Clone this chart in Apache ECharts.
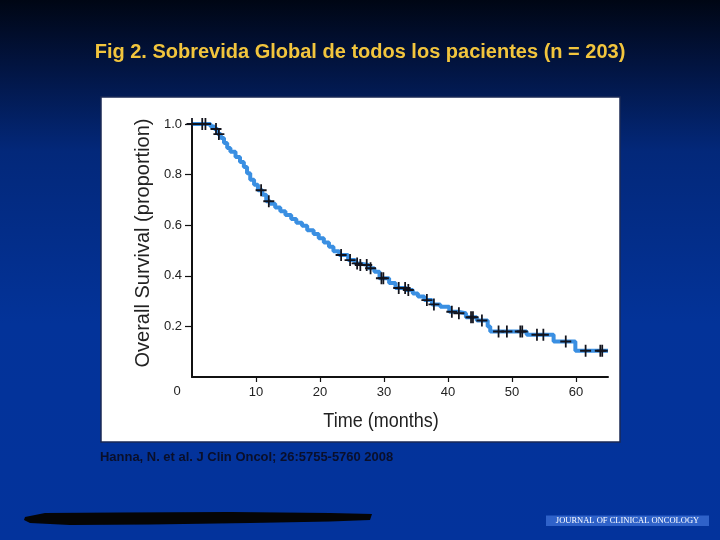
<!DOCTYPE html>
<html>
<head>
<meta charset="utf-8">
<script src="https://cdn.jsdelivr.net/npm/echarts@6/dist/echarts.min.js"></script>
<style>
html,body{margin:0;padding:0;width:720px;height:540px;overflow:hidden;background:#001a5a;}
#c{width:720px;height:540px;}
</style>
</head>
<body>
<div id="c"></div>
<script>
// Kaplan-Meier curve (step points: time in months, survival proportion)
const kmTimes = [0, 2.9, 3.5, 4.0, 4.5, 5.0, 5.5, 6.0, 6.8, 7.5, 8.1, 8.6, 9.1, 9.7, 10.3, 11.0, 11.6, 12.2, 13.0, 13.8, 14.6, 15.5, 16.3, 17.2, 18.0, 19.0, 19.8, 20.6, 21.4, 22.1, 23.0, 24.4, 25.5, 26.1, 27.6, 28.5, 29.3, 30.8, 31.8, 33.5, 34.5, 35.3, 36.3, 37.5, 38.8, 40.2, 41.5, 42.8, 44.5, 46.2, 46.6, 52.3, 56.5, 59.9, 65.0];
const kmSurv  = [1.0, 0.99, 0.98, 0.96, 0.945, 0.925, 0.905, 0.89, 0.87, 0.85, 0.83, 0.805, 0.78, 0.76, 0.738, 0.72, 0.695, 0.685, 0.67, 0.655, 0.64, 0.625, 0.61, 0.598, 0.58, 0.565, 0.548, 0.532, 0.515, 0.497, 0.482, 0.462, 0.449, 0.443, 0.43, 0.416, 0.39, 0.372, 0.352, 0.344, 0.33, 0.318, 0.304, 0.287, 0.278, 0.258, 0.252, 0.236, 0.223, 0.20, 0.18, 0.167, 0.14, 0.104, 0.104];
// Censored observations
const censorTimes = [0, 1.6, 2.1, 3.75, 4.2, 10.8, 12.0, 23.3, 24.7, 25.8, 26.3, 27.3, 27.9, 29.6, 29.9, 32.3, 33.3, 33.8, 36.7, 37.8, 40.6, 41.7, 43.6, 43.9, 45.3, 47.9, 49.2, 51.3, 51.6, 53.9, 54.9, 58.4, 61.5, 63.8, 64.1];
const censorSurv  = [1, 1, 1, 0.98, 0.96, 0.738, 0.695, 0.482, 0.462, 0.449, 0.443, 0.443, 0.43, 0.39, 0.39, 0.352, 0.352, 0.344, 0.304, 0.287, 0.258, 0.252, 0.236, 0.236, 0.223, 0.18, 0.18, 0.18, 0.18, 0.167, 0.167, 0.14, 0.104, 0.104, 0.104];
// Axis ticks (0 is drawn once, at the corner)
const xTicks = [10, 20, 30, 40, 50, 60];
const yTicks = [0.2, 0.4, 0.6, 0.8, 1.0];

const titleText = 'Fig 2. Sobrevida Global de todos los pacientes (n = 203)';
const sourceText = 'Hanna, N. et al. J Clin Oncol; 26:5755-5760 2008';
const yName = 'Overall Survival (proportion)';
const xName = 'Time (months)';

const kmData = kmTimes.map((t, i) => [t, kmSurv[i]]);
const censorData = censorTimes.map((t, i) => [t, censorSurv[i]]);

const chart = echarts.init(document.getElementById('c'), null, {renderer: 'canvas'});
const sans = '"Liberation Sans", Arial, sans-serif';

chart.setOption({
  animation: false,
  backgroundColor: 'transparent',
  title: {
    text: titleText,
    left: 'center',
    top: 37,
    textStyle: {color: '#F2C53D', fontFamily: sans, fontWeight: 'bold', fontSize: 20}
  },
  graphic: [
    {
      type: 'rect', z: -10, silent: true,
      shape: {x: 0, y: 0, width: 720, height: 540},
      style: {fill: new echarts.graphic.LinearGradient(0, 0, 0, 1, [
        {offset: 0, color: '#000614'},
        {offset: 0.12, color: '#021440'},
        {offset: 0.28, color: '#03287a'},
        {offset: 0.6, color: '#033399'},
        {offset: 1, color: '#03339c'}
      ])}
    },
    {
      type: 'rect', z: -9, silent: true,
      shape: {x: 101, y: 97, width: 519, height: 345},
      style: {fill: '#ffffff', stroke: '#1b2a55', lineWidth: 1.5}
    },
    {
      type: 'text', z: 5,
      x: 177, y: 391,
      style: {text: '0', fill: '#222', font: '13px ' + sans, align: 'center', verticalAlign: 'middle'}
    },
    {
      type: 'text', z: 5,
      x: 143, y: 243, rotation: Math.PI / 2,
      style: {text: yName, fill: '#222', font: '20px ' + sans, align: 'center', verticalAlign: 'middle'}
    },
    {
      type: 'text', z: 5,
      x: 381, y: 421, scaleX: 0.9,
      style: {text: xName, fill: '#222', font: '20px ' + sans, align: 'center', verticalAlign: 'middle'}
    },
    {
      type: 'text', z: 5,
      x: 100, y: 458, scaleX: 1.08,
      style: {text: sourceText, fill: '#0a0f2a', font: 'bold 12px ' + sans, align: 'left', verticalAlign: 'middle'}
    },
    {
      type: 'polygon', z: 5, silent: true,
      shape: {points: [[25,517],[45,513],[120,512.5],[230,512],[330,513],[372,514],[370,520],[330,521.5],[250,523],[150,524.5],[70,525],[30,523],[24,520]]},
      style: {fill: '#050505'}
    },
    {
      type: 'rect', z: 5,
      shape: {x: 546, y: 515.5, width: 163, height: 10.5},
      style: {fill: '#2f62c9'}
    },
    {
      type: 'text', z: 6,
      x: 627.5, y: 521,
      style: {text: 'JOURNAL OF CLINICAL ONCOLOGY', fill: '#ffffff', font: '8.5px "Liberation Serif", serif', align: 'center', verticalAlign: 'middle'}
    }
  ],
  grid: {left: 192, top: 124, width: 416, height: 253, containLabel: false},
  xAxis: {
    type: 'value', min: 0, max: 65, interval: 10,
    axisLine: {show: true, lineStyle: {color: '#111', width: 2}},
    axisTick: {show: true, length: 5, customValues: xTicks, lineStyle: {color: '#111', width: 1.2}},
    axisLabel: {
      color: '#222', fontFamily: sans, fontSize: 13, margin: 9,
      customValues: xTicks,
      formatter: v => String(v)
    },
    splitLine: {show: false}
  },
  yAxis: {
    type: 'value', min: 0, max: 1, interval: 0.2,
    axisLine: {show: true, lineStyle: {color: '#111', width: 2}},
    axisTick: {show: true, length: 7, customValues: yTicks, lineStyle: {color: '#111', width: 1.2}},
    axisLabel: {
      color: '#222', fontFamily: sans, fontSize: 13, margin: 10,
      customValues: yTicks,
      formatter: v => v.toFixed(1)
    },
    splitLine: {show: false}
  },
  series: [
    {
      type: 'line', step: 'end', data: kmData, showSymbol: false, symbol: 'none',
      lineStyle: {color: '#3a8fe2', width: 4}, z: 3, clip: false
    },
    {
      type: 'scatter', data: censorData, clip: false, z: 4,
      symbol: 'path://M4.2,0h1.6v4.2h4.2v1.6h-4.2v4.2h-1.6v-4.2h-4.2v-1.6h4.2z',
      symbolSize: [11, 12],
      itemStyle: {color: '#12131c', opacity: 1}
    }
  ]
});
</script>
</body>
</html>
